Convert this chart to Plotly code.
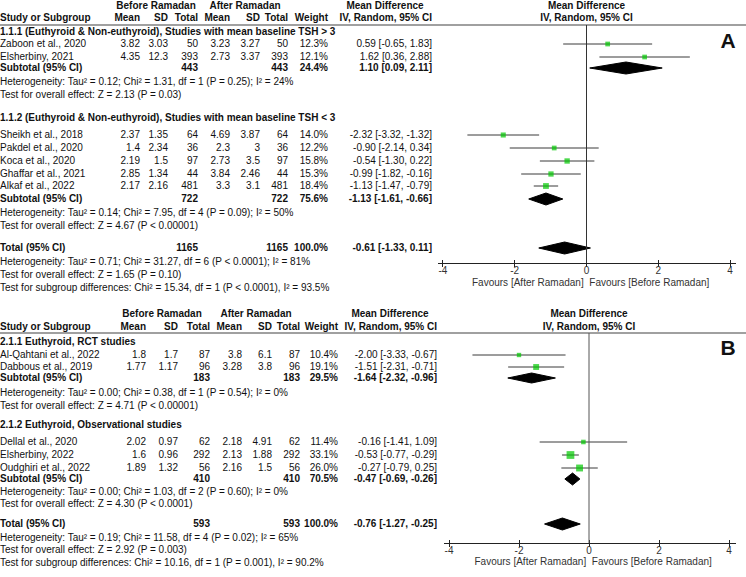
import plotly.graph_objects as go

# ---- panel A data ----
a1_study = ["Zaboon et al., 2020", "Elsherbiny, 2021"]
a1_b_mean = ["3.82", "4.35"]
a1_b_sd = ["3.03", "12.3"]
a1_b_n = [50, 393]
a1_a_mean = ["3.23", "2.73"]
a1_a_sd = ["3.27", "3.37"]
a1_a_n = [50, 393]
a1_weight = [12.3, 12.1]
a1_md = [0.59, 1.62]
a1_lo = [-0.65, 0.36]
a1_hi = [1.83, 2.88]
a1_sub = [443, 443, 24.4, 1.10, 0.09, 2.11]

a2_study = ["Sheikh et al., 2018", "Pakdel et al., 2020", "Koca et al., 2020",
            "Ghaffar et al., 2021", "Alkaf et al., 2022"]
a2_b_mean = ["2.37", "1.4", "2.19", "2.85", "2.17"]
a2_b_sd = ["1.35", "2.34", "1.5", "1.34", "2.16"]
a2_b_n = [64, 36, 97, 44, 481]
a2_a_mean = ["4.69", "2.3", "2.73", "3.84", "3.3"]
a2_a_sd = ["3.87", "3", "3.5", "2.46", "3.1"]
a2_a_n = [64, 36, 97, 44, 481]
a2_weight = [14.0, 12.2, 15.8, 15.3, 18.4]
a2_md = [-2.32, -0.90, -0.54, -0.99, -1.13]
a2_lo = [-3.32, -2.14, -1.30, -1.82, -1.47]
a2_hi = [-1.32, 0.34, 0.22, -0.16, -0.79]
a2_sub = [722, 722, 75.6, -1.13, -1.61, -0.66]
a_total = [1165, 1165, 100.0, -0.61, -1.33, 0.11]

a_titles = ["1.1.1 (Euthyroid & Non-euthyroid), Studies with mean baseline TSH > 3",
            "1.1.2 (Euthyroid & Non-euthyroid), Studies with mean baseline TSH < 3"]
a_stats = ["Heterogeneity: Tau² = 0.12; Chi² = 1.31, df = 1 (P = 0.25); I² = 24%",
           "Test for overall effect: Z = 2.13 (P = 0.03)",
           "Heterogeneity: Tau² = 0.14; Chi² = 7.95, df = 4 (P = 0.09); I² = 50%",
           "Test for overall effect: Z = 4.67 (P < 0.00001)",
           "Heterogeneity: Tau² = 0.71; Chi² = 31.27, df = 6 (P < 0.0001); I² = 81%",
           "Test for overall effect: Z = 1.65 (P = 0.10)",
           "Test for subgroup differences: Chi² = 15.34, df = 1 (P < 0.0001), I² = 93.5%"]

# ---- panel B data ----
b1_study = ["Al-Qahtani et al., 2022", "Dabbous et al., 2019"]
b1_b_mean = ["1.8", "1.77"]
b1_b_sd = ["1.7", "1.17"]
b1_b_n = [87, 96]
b1_a_mean = ["3.8", "3.28"]
b1_a_sd = ["6.1", "3.8"]
b1_a_n = [87, 96]
b1_weight = [10.4, 19.1]
b1_md = [-2.00, -1.51]
b1_lo = [-3.33, -2.31]
b1_hi = [-0.67, -0.71]
b1_sub = [183, 183, 29.5, -1.64, -2.32, -0.96]

b2_study = ["Dellal et al., 2020", "Elsherbiny, 2022", "Oudghiri et al., 2022"]
b2_b_mean = ["2.02", "1.6", "1.89"]
b2_b_sd = ["0.97", "0.96", "1.32"]
b2_b_n = [62, 292, 56]
b2_a_mean = ["2.18", "2.13", "2.16"]
b2_a_sd = ["4.91", "1.88", "1.5"]
b2_a_n = [62, 292, 56]
b2_weight = [11.4, 33.1, 26.0]
b2_md = [-0.16, -0.53, -0.27]
b2_lo = [-1.41, -0.77, -0.79]
b2_hi = [1.09, -0.29, 0.25]
b2_sub = [410, 410, 70.5, -0.47, -0.69, -0.26]
b_total = [593, 593, 100.0, -0.76, -1.27, -0.25]

b_titles = ["2.1.1 Euthyroid, RCT studies", "2.1.2 Euthyroid, Observational studies"]
b_stats = ["Heterogeneity: Tau² = 0.00; Chi² = 0.38, df = 1 (P = 0.54); I² = 0%",
           "Test for overall effect: Z = 4.71 (P < 0.00001)",
           "Heterogeneity: Tau² = 0.00; Chi² = 1.03, df = 2 (P = 0.60); I² = 0%",
           "Test for overall effect: Z = 4.30 (P < 0.0001)",
           "Heterogeneity: Tau² = 0.19; Chi² = 11.58, df = 4 (P = 0.02); I² = 65%",
           "Test for overall effect: Z = 2.92 (P = 0.003)",
           "Test for subgroup differences: Chi² = 10.16, df = 1 (P = 0.001), I² = 90.2%"]

ticks = [-4, -2, 0, 2, 4]
tick_text = ["-4", "-2", "0", "2", "4"]

W, H = 746, 577
FONT = "Liberation Sans, Arial, sans-serif"
FS = 10
TXT = "#111111"
GREEN = "#00c800"

fig = go.Figure()


def txt(x, y, s, pos="middle left", bold=False, size=FS, xa="x", color=TXT):
    s = list(s)
    if bold:
        s = ["<b>%s</b>" % v for v in s]
    fig.add_trace(go.Scatter(x=[x] * len(s), y=y, text=s, mode="text", textposition=pos,
                             textfont=dict(family=FONT, size=size, color=color),
                             hoverinfo="skip", showlegend=False, xaxis=xa, yaxis="y"))


def ci(v):
    return "%.2f [%.2f, %.2f]" % tuple(v)


def diamond(v, y, xa, h):
    est, lo, hi = v[3], v[4], v[5]
    fig.add_trace(go.Scatter(x=[lo, est, hi, est, lo], y=[y, y - h, y, y + h, y],
                             mode="lines", fill="toself", fillcolor="black",
                             line=dict(color="black", width=1),
                             xaxis=xa, yaxis="y", hoverinfo="skip", showlegend=False))


def panel(p, cols, groups, total, titles, stats, ys, xa):
    # column headers
    txt(cols["bh"], [ys["h1"]], ["Before Ramadan"], "middle center", True)
    txt(cols["ah"], [ys["h1"]], ["After Ramadan"], "middle center", True)
    txt(cols["ci"] - 47, [ys["h1"]], ["Mean Difference"], "middle center", True)
    txt(0, [ys["h2"]], ["Study or Subgroup"], "middle right", True)
    for key, lab in [("bm", "Mean"), ("bs", "SD"), ("bn", "Total"), ("am", "Mean"),
                     ("as", "SD"), ("an", "Total"), ("w", "Weight"), ("ci", "IV, Random, 95% CI")]:
        txt(cols[key], [ys["h2"]], [lab], bold=True)
    txt(0, [ys["h1"]], ["Mean Difference"], "middle center", True, xa=xa)
    txt(0, [ys["h2"]], ["IV, Random, 95% CI"], "middle center", True, xa=xa)

    for g, grp in enumerate(groups):
        study, bm, bs, bn, am, a_s, an, w, md, lo, hi, sub = grp
        gy = ys["groups"][g]
        txt(0, [gy["title"]], [titles[g]], "middle right", True)
        ry = gy["rows"]
        txt(0, ry, study, "middle right")
        txt(cols["bm"], ry, bm)
        txt(cols["bs"], ry, bs)
        txt(cols["bn"], ry, [str(v) for v in bn])
        txt(cols["am"], ry, am)
        txt(cols["as"], ry, a_s)
        txt(cols["an"], ry, [str(v) for v in an])
        txt(cols["w"], ry, ["%.1f%%" % v for v in w])
        txt(cols["ci"], ry, [ci(v) for v in zip(md, lo, hi)])
        # subtotal row
        txt(0, [gy["sub"]], ["Subtotal (95% CI)"], "middle right", True)
        txt(cols["bn"], [gy["sub"]], [str(sub[0])], bold=True)
        txt(cols["an"], [gy["sub"]], [str(sub[1])], bold=True)
        txt(cols["w"], [gy["sub"]], ["%.1f%%" % sub[2]], bold=True)
        txt(cols["ci"], [gy["sub"]], [ci(sub[3:])], bold=True)
        txt(0, gy["stats"], stats[2 * g:2 * g + 2], "middle right")

        # confidence intervals and squares
        lx, ly = [], []
        for a, b, y in zip(lo, hi, ry):
            lx += [a, b, None]
            ly += [y, y, None]
        fig.add_trace(go.Scatter(x=lx, y=ly, mode="lines", line=dict(color="#3a3a3a", width=1),
                                 xaxis=xa, yaxis="y", hoverinfo="skip", showlegend=False))
        fig.add_trace(go.Scatter(x=md, y=ry, mode="markers",
                                 marker=dict(symbol="square", color=GREEN,
                                             size=[1.35 * v ** 0.5 for v in w], line=dict(width=0)),
                                 xaxis=xa, yaxis="y", hoverinfo="skip", showlegend=False))
        diamond(sub, gy["sub"], xa, gy["dh"])

    # total
    ty = ys["total"]
    txt(0, [ty], ["Total (95% CI)"], "middle right", True)
    txt(cols["bn"], [ty], [str(total[0])], bold=True)
    txt(cols["an"], [ty], [str(total[1])], bold=True)
    txt(cols["w"], [ty], ["%.1f%%" % total[2]], bold=True)
    txt(cols["ci"], [ty], [ci(total[3:])], bold=True)
    txt(0, ys["tstats"], stats[4:], "middle right")
    diamond(total, ty, xa, 6)

    # favours labels
    txt(0, [ys["fav"]], ["Favours [After Ramadan] "], "middle left", xa=xa, color="#333")
    txt(0, [ys["fav"]], [" Favours [Before Ramadan]"], "middle right", xa=xa, color="#333")
    # panel letter
    txt(ys["lx"], [ys["ly"]], [p], "middle center", True, 21)


cols_a = dict(bm=140, bs=168, bn=198, am=230, **{"as": 260}, an=288, w=328, ci=432, bh=156, ah=245)
cols_b = dict(bm=146, bs=178, bn=210, am=242, **{"as": 272}, an=300, w=338, ci=437, bh=162, ah=256)

ys_a = dict(h1=6, h2=18, total=248, tstats=[262, 275, 288], fav=283, lx=728, ly=43,
            groups=[dict(title=32, rows=[44, 57], sub=68, stats=[82, 95], dh=6),
                    dict(title=118, rows=[135, 148, 161, 174, 186], sub=199,
                         stats=[213, 226], dh=6)])
ys_b = dict(h1=314, h2=327, total=524, tstats=[538, 550, 563], fav=562, lx=728, ly=350,
            groups=[dict(title=342, rows=[355, 367], sub=378, stats=[393, 406], dh=5),
                    dict(title=425, rows=[442, 455, 468], sub=479, stats=[492, 504], dh=6)])

panel("A", cols_a,
      [(a1_study, a1_b_mean, a1_b_sd, a1_b_n, a1_a_mean, a1_a_sd, a1_a_n, a1_weight, a1_md, a1_lo, a1_hi, a1_sub),
       (a2_study, a2_b_mean, a2_b_sd, a2_b_n, a2_a_mean, a2_a_sd, a2_a_n, a2_weight, a2_md, a2_lo, a2_hi, a2_sub)],
      a_total, a_titles, a_stats, ys_a, "x2")
panel("B", cols_b,
      [(b1_study, b1_b_mean, b1_b_sd, b1_b_n, b1_a_mean, b1_a_sd, b1_a_n, b1_weight, b1_md, b1_lo, b1_hi, b1_sub),
       (b2_study, b2_b_mean, b2_b_sd, b2_b_n, b2_a_mean, b2_a_sd, b2_a_n, b2_weight, b2_md, b2_lo, b2_hi, b2_sub)],
      b_total, b_titles, b_stats, ys_b, "x3")

# empty traces so the inner tick overlays are drawn
for xa in ["x4", "x5"]:
    fig.add_trace(go.Scatter(x=[None], y=[None], xaxis=xa, yaxis="y", showlegend=False))

# header rules and zero lines
for y in [25, 333]:
    fig.add_shape(type="line", xref="paper", yref="y", x0=0, x1=1, y0=y, y1=y,
                  line=dict(color="#808080", width=1.5))
fig.add_shape(type="line", xref="x2", yref="y", x0=0, x1=0, y0=25, y1=263,
              line=dict(color="#333", width=1))
fig.add_shape(type="line", xref="x3", yref="y", x0=0, x1=0, y0=333, y1=543,
              line=dict(color="#555", width=1))

forest_axis = dict(showgrid=False, zeroline=False, showline=True, linecolor="#222", linewidth=1,
                   ticks="outside", ticklen=3, tickcolor="#222", tickvals=ticks, ticktext=tick_text,
                   tickfont=dict(family=FONT, size=FS, color="#333"), ticklabelstandoff=-5,
                   anchor="free", fixedrange=True)
inner_ticks = dict(showgrid=False, zeroline=False, showline=False, ticks="inside", ticklen=3,
                   tickcolor="#222", tickvals=ticks, showticklabels=False, anchor="free",
                   fixedrange=True)

dom_a, rng_a, pos_a = [438 / W, 736 / W], [-4.139, 4.167], 1 - 263 / H
dom_b, rng_b, pos_b = [444 / W, 736 / W], [-4.143, 4.2], 1 - 543 / H

fig.update_layout(
    width=W, height=H, margin=dict(l=0, r=0, t=0, b=0),
    paper_bgcolor="white", plot_bgcolor="rgba(0,0,0,0)", showlegend=False,
    xaxis=dict(range=[0, W], domain=[0, 1], visible=False, fixedrange=True),
    yaxis=dict(range=[H, 0], domain=[0, 1], visible=False, fixedrange=True),
    xaxis2=dict(forest_axis, domain=dom_a, range=rng_a, position=pos_a),
    xaxis3=dict(forest_axis, domain=dom_b, range=rng_b, position=pos_b),
    xaxis4=dict(inner_ticks, domain=dom_a, range=rng_a, position=pos_a),
    xaxis5=dict(inner_ticks, domain=dom_b, range=rng_b, position=pos_b),
)

fig.write_html("out.html", config={"displayModeBar": False},
               post_script="document.body.style.margin = '0';")
